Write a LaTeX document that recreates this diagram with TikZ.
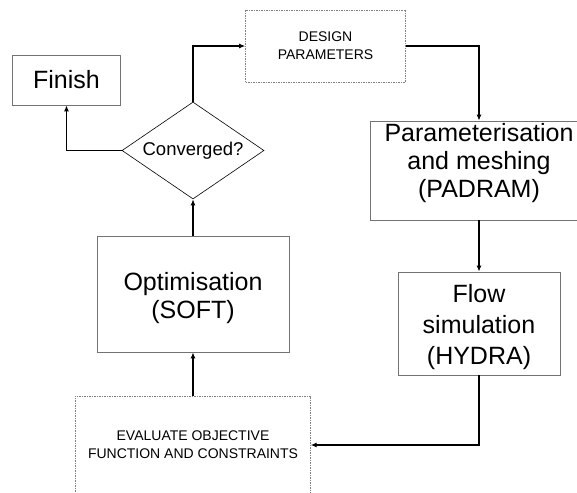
\documentclass[tikz,border=0pt]{standalone}
\usepackage{fontspec}
\setmainfont{Liberation Sans}
\usetikzlibrary{shapes.geometric,arrows.meta}
\tikzset{
  solidbox/.style={draw=black!55, line width=0.7pt, rectangle, inner sep=0pt, align=center},
  dotbox/.style={draw=black!50, line width=0.6pt, dash pattern=on 1.5pt off 1pt, rectangle, inner sep=0pt, align=center},
  bigtext/.style={font=\fontsize{25}{28}\selectfont, align=center, inner sep=0pt},
  smalltext/.style={font=\fontsize{14}{18}\selectfont},
  conn/.style={line width=1.3pt, -{Latex[length=6pt,width=5pt]}},
}
\begin{document}
\begin{tikzpicture}[x=1pt,y=-1pt]
\useasboundingbox[fill=white] (0,0) rectangle (577,492);
% nodes
\node[solidbox, bigtext, minimum width=108pt, minimum height=50pt] (finish) at (66.5,80) {Finish};
\node[diamond, draw=black, line width=0.6pt, inner sep=0pt, minimum width=142pt, minimum height=97pt, aspect=1.46, font=\fontsize{18.5}{21}\selectfont] (conv) at (193,150.5) {Converged?};
\node[dotbox, smalltext, minimum width=160pt, minimum height=72pt] (design) at (325.5,46) {DESIGN\\PARAMETERS};
\node[solidbox, minimum width=218pt, minimum height=99pt] (param) at (479,170.5) {};
\node[bigtext] (paramtext) at (479,163) {Parameterisation\\and meshing\\(PADRAM)};
\node[solidbox, minimum width=162pt, minimum height=103pt] (flow) at (479,323.5) {};
\node[bigtext, font=\fontsize{25}{31}\selectfont] (flowtext) at (479,327.5) {Flow\\simulation\\(HYDRA)};
\node[smalltext, align=center, inner sep=0pt, minimum width=235pt, minimum height=98pt] (eval) at (193,445) {EVALUATE OBJECTIVE\\FUNCTION AND CONSTRAINTS};
\draw[draw=black!50, line width=0.6pt, dash pattern=on 1.5pt off 1pt] (eval.south west) -- (eval.north west) -- (eval.north east) -- (eval.south east);
\node[solidbox, minimum width=192pt, minimum height=116pt] (opt) at (193,294) {};
\node[bigtext] (opttext) at (193,298.5) {Optimisation\\(SOFT)};
% connectors
\draw[conn] (conv.west) -| (finish.south);
\draw[conn] (conv.north) |- (design.west);
\draw[conn] (design.east) -| (param.north);
\draw[conn] (param.south) -- (flow.north);
\draw[conn] (flow.south) |- (eval.east);
\draw[conn] (eval.north) -- (opt.south);
\draw[conn] (opt.north) -- (conv.south);
\end{tikzpicture}
\end{document}
